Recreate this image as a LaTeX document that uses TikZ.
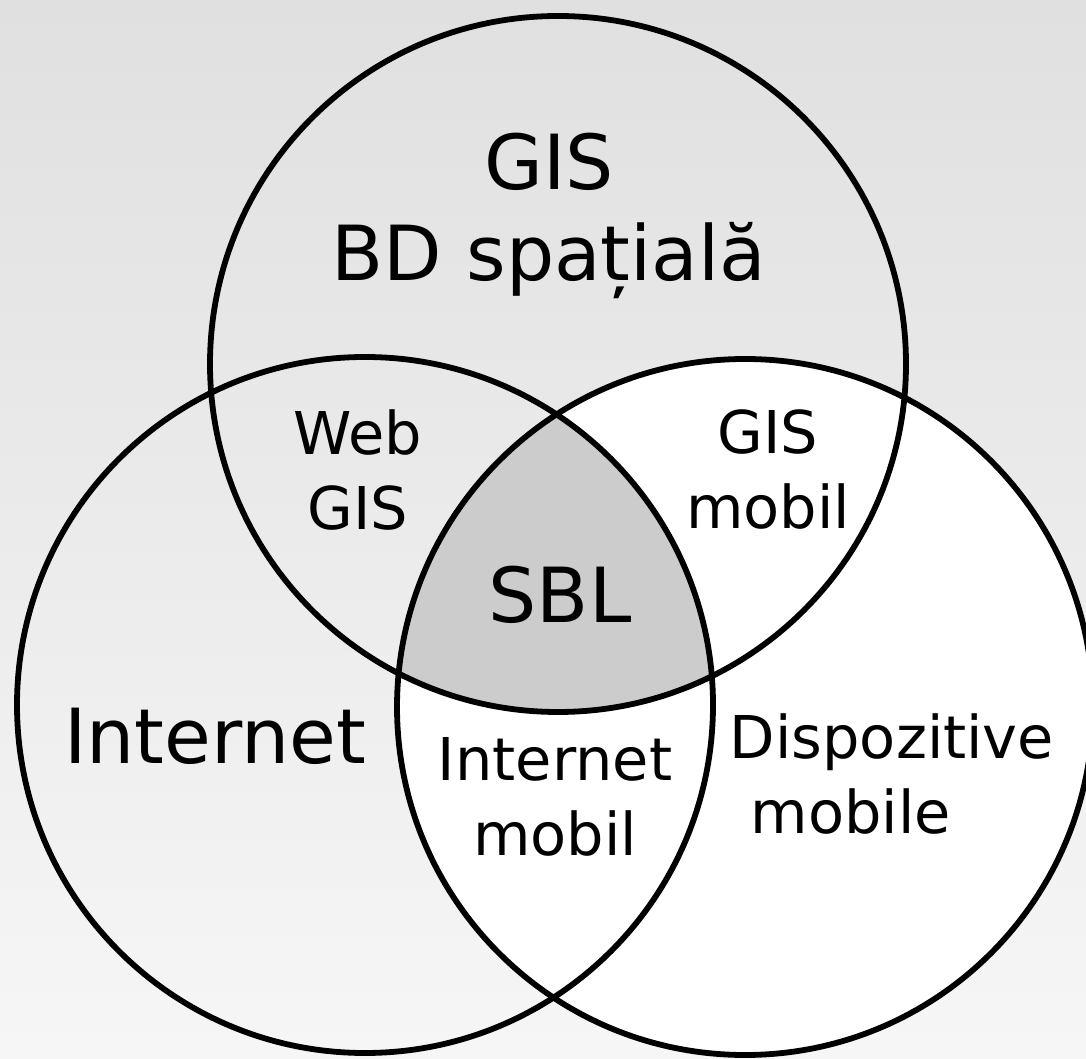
\documentclass[tikz,border=0pt]{standalone}
\usepackage{fontspec}
\setmainfont{DejaVu Sans}
\definecolor{sblgray}{HTML}{CCCCCC}
\definecolor{bgtop}{HTML}{E0E0E0}
\definecolor{bgbottom}{HTML}{F6F6F6}
\tikzset{
	ring/.style={draw=black, line width=5.8pt},
	biglabel/.style={inner sep=0pt, align=center, font=\fontsize{76}{91}\selectfont},
	smalllabel/.style={inner sep=0pt, align=center, font=\fontsize{59}{75}\selectfont}
}
\begin{document}
\begin{tikzpicture}[x=1pt, y=1pt]
	\useasboundingbox (0,0) rectangle (1086,1058);
	\shade[top color=bgtop, bottom color=bgbottom] (0,0) rectangle (1086,1058);
	\clip (0,0) rectangle (1086,1058);
	% the three sets
	\coordinate (gisc) at (558,694);
	\coordinate (netc) at (365,353);
	\coordinate (mobc) at (745,351);
	\fill[white] (mobc) circle (348);
	{
	\begin{scope}
		\clip (gisc) circle (348);
		\clip (netc) circle (348);
		\fill[sblgray] (mobc) circle (348);
	\end{scope}
	}
	\draw[ring] (gisc) circle (348);
	\draw[ring] (netc) circle (348);
	\draw[ring] (mobc) circle (348);
	% labels
	\node[biglabel] (gis) at (549,842) {GIS\\BD spațială};
	\node[biglabel] (internet) at (215,322) {Internet};
	\node[smalllabel] (mobile) at (892,284) {Dispozitive\\mobile\hspace*{82pt}};
	\node[smalllabel] (webgis) at (358,588) {Web\\GIS};
	\node[smalllabel] (gismobil) at (768,588) {GIS\\mobil};
	\node[smalllabel] (netmobil) at (555,261) {Internet\\mobil};
	\node[biglabel] (sbl) at (560,463) {SBL};
\end{tikzpicture}
\end{document}
